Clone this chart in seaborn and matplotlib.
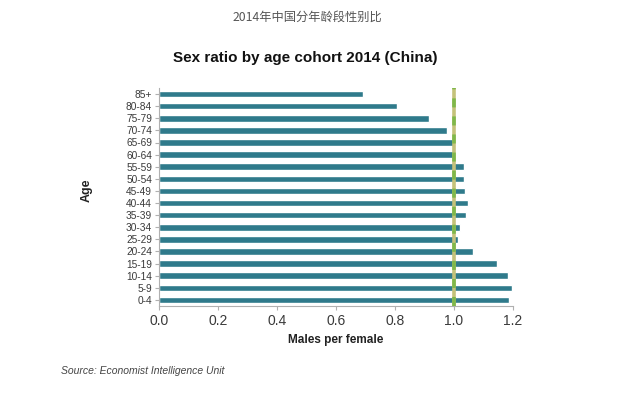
import matplotlib
matplotlib.use("Agg")
import matplotlib.pyplot as plt
import seaborn as sns
import pandas as pd

age_groups = ["85+", "80-84", "75-79", "70-74", "65-69", "60-64", "55-59", "50-54",
              "45-49", "40-44", "35-39", "30-34", "25-29", "20-24", "15-19", "10-14",
              "5-9", "0-4"]
ratios = [0.693, 0.808, 0.915, 0.976, 1.004, 1.004, 1.033, 1.033, 1.036, 1.046,
          1.040, 1.020, 1.014, 1.063, 1.145, 1.182, 1.196, 1.185]
x_ticks = [0.0, 0.2, 0.4, 0.6, 0.8, 1.0, 1.2]
parity = 1.0

sns.set_theme(style="white")
plt.rcParams['font.family'] = ['Liberation Sans', 'Noto Sans CJK SC', 'DejaVu Sans']

df = pd.DataFrame({"Age": age_groups, "Ratio": ratios})

fig = plt.figure(figsize=(6.4, 3.96), dpi=100)
ax = fig.add_axes([159/640, 1-306/396, (513-159)/640, (306-88)/396])

sns.barplot(data=df, y="Age", x="Ratio", order=age_groups, orient="h",
            color="#2f7a8b", saturation=1, width=0.55, ax=ax)

ax.axvline(parity, color="#c4c27a", lw=2.6, zorder=3)
ax.axvline(parity, color="#7fb84a", lw=2.6, ls=(0, (2.5, 2.5)), zorder=4)

ax.set_xlim(0, 1.2)
ax.set_ylim(len(age_groups) - 0.5, -0.5)
ax.set_xticks(x_ticks)
ax.set_xticklabels([f"{v:.1f}" for v in x_ticks], fontsize=10, color="#3a3a3a")
ax.tick_params(axis="y", labelsize=7.3, length=3, width=0.8,
               direction="out", left=True, pad=2)
ax.tick_params(axis="x", length=3, width=0.8, direction="out", bottom=True, pad=3)
for t in ax.get_yticklabels():
    t.set_color("#3a3a3a")

for s in ["top", "right"]:
    ax.spines[s].set_visible(False)
for s in ["left", "bottom"]:
    ax.spines[s].set_color("#b0b0b0")
    ax.spines[s].set_linewidth(0.8)
ax.tick_params(color="#b0b0b0")

ax.set_xlabel("Males per female", fontsize=8.5, fontweight="bold", color="#222222", labelpad=4)
ax.set_ylabel("")
fig.text(87/640, 1-190/396, "Age", rotation=90, fontsize=9, fontweight="bold",
         color="#222222", ha="center", va="center")

fig.text(305/640, 1-58/396, "Sex ratio by age cohort 2014 (China)", fontsize=11,
         fontweight="bold", color="#111111", ha="center", va="center")
fig.text(307/640, 1-17/396, "2014年中国分年龄段性别比", fontsize=8.8,
         color="#555555", ha="center", va="center",
         family=['Noto Sans CJK SC', 'DejaVu Sans'])
fig.text(61/640, 1-371/396, "Source: Economist Intelligence Unit", fontsize=7.5,
         style="italic", color="#444444", ha="left", va="center")

fig.savefig("out.png", dpi=100, facecolor="white")
